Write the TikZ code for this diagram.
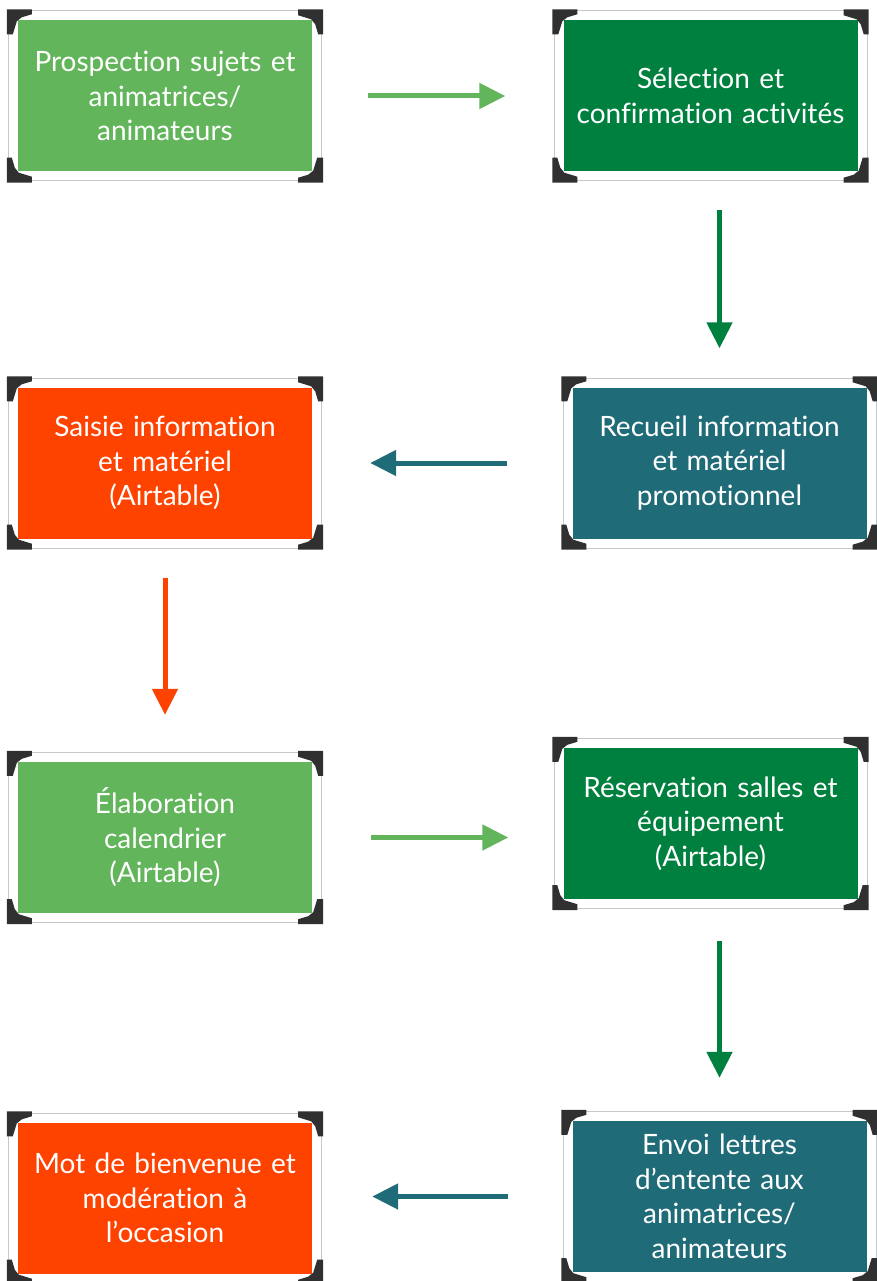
\documentclass[tikz,border=0pt]{standalone}
\usepackage{fontspec}
\setmainfont{Lato}[Ligatures=NoCommon]
\usetikzlibrary{
    arrows.meta,
    positioning
}
\definecolor{vertclair}{HTML}{62B55B}
\definecolor{vertfonce}{HTML}{00803F}
\definecolor{orange}{HTML}{FE4200}
\definecolor{sarcelle}{HTML}{1F6B77}
\definecolor{coin}{HTML}{303030}

\begin{document}
\begin{tikzpicture}[x=1pt,y=-1pt,
    card/.style={fill=#1, text=white, align=center, inner sep=0pt,
        minimum width=294pt, minimum height=151pt, text width=290pt,
        font=\fontsize{28}{34.5}\selectfont,
        preaction={draw=black!22, line width=20pt},
        preaction={draw=white, line width=18pt}},
    flow/.style={draw=#1, line width=5pt,
        -{Triangle[length=26pt,width=25pt]}}]

\useasboundingbox (0,0) rectangle (877,1281);

% Cards
\node[card=vertclair] (pros) at (165,96)
    {Prospection sujets et\\ animatrices/\\ animateurs};
\node[card=vertfonce] (sel) at (710.5,96)
    {Sélection et\\ confirmation activités};
\node[card=orange] (sai) at (165,463)
    {Saisie information\\ et matériel\\ (Airtable)};
\node[card=sarcelle] (rec) at (719.5,463)
    {Recueil information\\ et matériel\\ promotionnel};
\node[card=vertclair] (ela) at (165,837.5)
    {Élaboration\\ calendrier\\ (Airtable)};
\node[card=vertfonce] (res) at (710.5,823.5)
    {Réservation salles et\\ équipement\\ (Airtable)};
\node[card=orange] (mot) at (165,1198)
    {Mot de bienvenue et\\ modération à\\ l’occasion};
\node[card=sarcelle] (env) at (719.5,1196.5)
    {Envoi lettres\\ d’entente aux\\ animatrices/\\ animateurs};

% Corner brackets
\foreach \n in {pros,sel,sai,rec,ela,res,mot,env}{
    \foreach \a/\r in {north west/0, north east/-90,
                       south east/180, south west/90}{
        \begin{scope}[shift={(\n.\a)}, rotate=\r]
            \fill[coin] (-11pt,11pt) -- (14pt,11pt) -- (14pt,6pt)
                -- (4pt,3pt) -- (-1pt,-1pt) -- (-5pt,-14pt)
                -- (-11pt,-14pt) -- cycle;
        \end{scope}
    }
}

% Arrows
\draw[flow=vertclair, shorten <=56pt, shorten >=58pt]
    (pros.east) -- (sel.west);
\draw[flow=vertfonce, shorten <=38pt, shorten >=39pt]
    (sel.south -| rec.north) -- (rec.north);
\draw[flow=sarcelle, shorten <=65pt, shorten >=58pt]
    (rec.west) -- (sai.east);
\draw[flow=orange, shorten <=39pt, shorten >=47pt]
    (sai.south) -- (ela.north);
\draw[flow=vertclair, shorten <=59pt, shorten >=55pt]
    (ela.east) -- (ela.east -| res.west);
\draw[flow=vertfonce, shorten <=42pt, shorten >=43pt]
    (res.south -| env.north) -- (env.north);
\draw[flow=sarcelle, shorten <=64pt, shorten >=60pt]
    (env.west) -- (env.west -| mot.east);

\end{tikzpicture}
\end{document}
